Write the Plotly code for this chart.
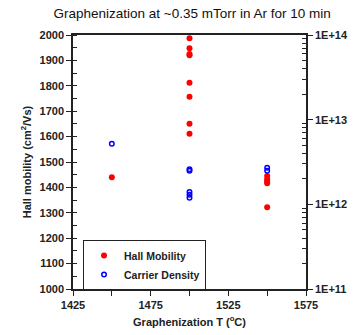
import plotly.graph_objects as go

title = "Graphenization at ~0.35 mTorr in Ar for 10 min"
mob_T = [1450, 1500, 1500, 1500, 1500, 1500, 1500, 1500, 1500, 1550, 1550, 1550, 1550, 1550]
mob_v = [1440, 1987, 1948, 1925, 1920, 1812, 1757, 1651, 1611, 1445, 1432, 1423, 1416, 1322]
den_T = [1450, 1500, 1500, 1500, 1500, 1500, 1550, 1550]
den_v = [5.2e12, 2.5e12, 2.6e12, 1.4e12, 1.3e12, 1.2e12, 2.5e12, 2.7e12]
right_ticks = [1e11, 1e12, 1e13, 1e14]
right_labels = ["1E+11", "1E+12", "1E+13", "1E+14"]
x_ticks = [1425, 1475, 1525, 1575]

font = "Liberation Sans, Arial, sans-serif"
fig = go.Figure()
fig.add_trace(go.Scatter(x=mob_T, y=mob_v, mode="markers", name="Hall Mobility",
                         marker=dict(color="#ff0000", size=6, line=dict(width=0))))
fig.add_trace(go.Scatter(x=den_T, y=den_v, mode="markers", name="Carrier Density", yaxis="y2",
                         marker=dict(color="#0000ff", size=4.5, symbol="circle-open",
                                     line=dict(color="#0000ff", width=1.5))))

fig.update_layout(
    width=357, height=335,
    margin=dict(l=73, r=51, t=35, b=46, autoexpand=False),
    paper_bgcolor="white", plot_bgcolor="white",
    font=dict(family=font, size=11, color="#222"),
    title=dict(text=title, x=0.538, xanchor="center", y=0.96, yanchor="middle",
               font=dict(size=13.5, color="#111")),
    showlegend=True,
    legend=dict(x=0.043, y=0.193, xanchor="left", yanchor="top", bordercolor="#222", borderwidth=1,
                bgcolor="white", font=dict(size=10.5, color="#222", weight="bold"),
                itemwidth=30, tracegroupgap=0),
    xaxis=dict(range=[1425, 1575], tickvals=x_ticks, ticks="outside", ticklen=5, tickcolor="#222",
               minor=dict(tickvals=[1450, 1500, 1550], ticks="outside", ticklen=5, tickcolor="#222"),
               showline=True, linecolor="#222", linewidth=1.5, showgrid=False, zeroline=False,
               tickfont=dict(size=11, weight="bold"), automargin=False,
               title=dict(text="Graphenization T (<sup>o</sup>C)", standoff=8,
                          font=dict(size=11, weight="bold")),
               mirror=True),
    yaxis=dict(range=[1000, 2000], dtick=100, ticks="outside", ticklen=5, tickcolor="#222",
               minor=dict(dtick=50, ticks="inside", ticklen=4, tickcolor="#222"),
               showline=True, linecolor="#222", linewidth=1.5, showgrid=False, zeroline=False,
               tickfont=dict(size=11, weight="bold"), automargin=False,
               title=dict(text="Hall mobility (cm<sup>2</sup>/Vs)", standoff=6,
                          font=dict(size=11, weight="bold"))),
    yaxis2=dict(type="log", range=[11, 14], overlaying="y", side="right",
                tickvals=right_ticks, ticktext=right_labels, ticks="outside", ticklen=5, tickcolor="#222",
                minor=dict(tickvals=[m * 10**e for e in (11, 12, 13) for m in range(2, 10)],
                           ticks="inside", ticklen=4, tickcolor="#222"),
                showline=True, linecolor="#222", linewidth=1.5, showgrid=False, zeroline=False,
                tickfont=dict(size=11, weight="bold"), automargin=False),
)
fig.write_html("out.html", config={"displayModeBar": False},
               post_script="document.body.style.margin='0';document.body.style.overflow='hidden';")
